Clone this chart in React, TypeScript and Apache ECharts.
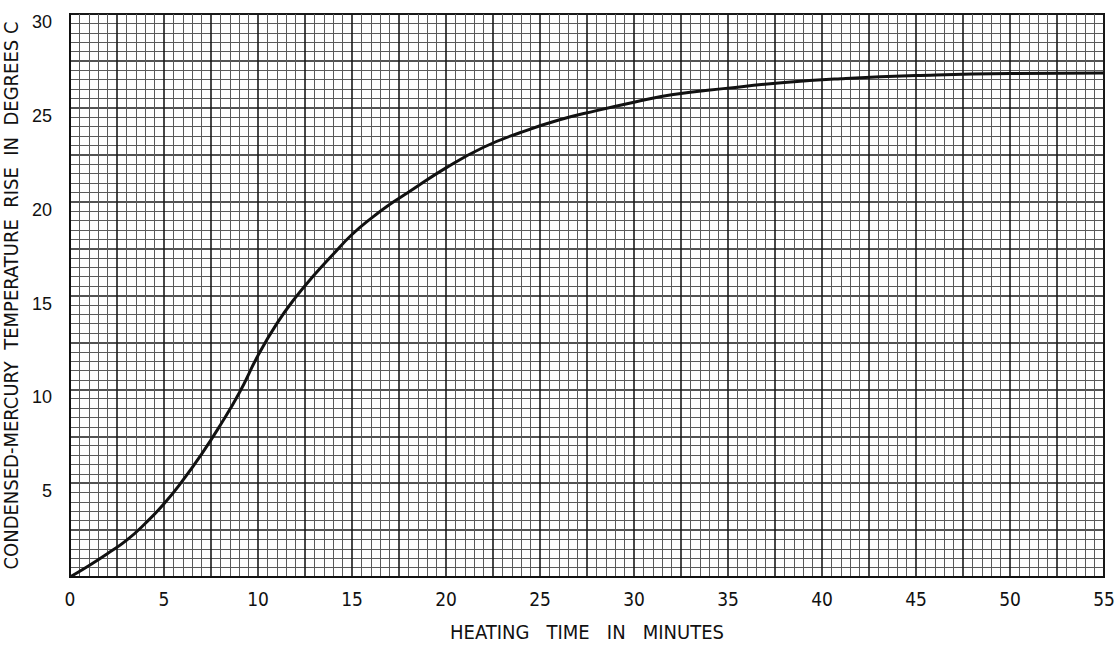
import React, { useEffect, useRef } from "react";
import * as echarts from "echarts";

const timeMinutes = [0, 1, 2, 3, 4, 5, 6, 7, 8, 9, 10, 11, 12, 13, 14, 15, 16, 17, 18, 20, 22, 24, 26, 28, 30, 32, 35, 38, 41, 45, 50, 55];
const tempRise = [0, 0.6, 1.25, 1.95, 2.85, 3.9, 5.15, 6.55, 8.1, 9.8, 11.8, 13.5, 14.9, 16.1, 17.2, 18.25, 19.1, 19.85, 20.5, 21.8, 22.9, 23.7, 24.35, 24.85, 25.3, 25.7, 26.05, 26.35, 26.55, 26.72, 26.83, 26.85];
const xTickLabels = [0, 5, 10, 15, 20, 25, 30, 35, 40, 45, 50, 55];
const yTickLabels = [5, 10, 15, 20, 25, 30];

const xTitle = "HEATING   TIME   IN   MINUTES";
const yTitle = "CONDENSED-MERCURY  TEMPERATURE  RISE  IN  DEGREES C";

export default function App() {
  const ref = useRef<HTMLDivElement>(null);
  useEffect(() => {
    if (!ref.current) return;
    const chart = echarts.init(ref.current, null, { renderer: "svg" });
    const narrow = "'DejaVu Sans Condensed', 'Liberation Sans Narrow', 'DejaVu Sans', sans-serif";
    const minorLine = { show: true, lineStyle: { color: "#5a5a5a", width: 1 } };
    const majorLine = { show: true, lineStyle: { color: "#1a1a1a", width: 1.6 } };
    chart.setOption({
      animation: false,
      backgroundColor: "#ffffff",
      grid: {
        left: 70,
        right: 12,
        top: 14,
        bottom: 71,
        outerBoundsMode: "none",
        show: true,
        borderColor: "#111",
        borderWidth: 2,
        backgroundColor: "transparent",
      },
      xAxis: {
        type: "value",
        min: 0,
        max: 55,
        interval: 2.5,
        name: xTitle,
        nameLocation: "middle",
        nameGap: 45,
        nameTextStyle: { fontFamily: narrow, fontSize: 20, color: "#111" },
        axisLine: { show: true, lineStyle: { color: "#111", width: 2 } },
        axisTick: { show: false },
        minorTick: { show: false, splitNumber: 5 },
        splitLine: majorLine,
        minorSplitLine: minorLine,
        axisLabel: {
          margin: 12,
          fontFamily: narrow,
          fontSize: 19,
          color: "#111",
          formatter: (v: number) => (xTickLabels.includes(v) ? String(v) : ""),
        },
      },
      yAxis: {
        type: "value",
        min: 0,
        max: 30,
        interval: 2.5,
        name: yTitle,
        nameLocation: "middle",
        nameRotate: 90,
        nameGap: 46,
        nameTextStyle: { fontFamily: narrow, fontSize: 20, color: "#111" },
        axisLine: { show: true, lineStyle: { color: "#111", width: 2 } },
        axisTick: { show: false },
        minorTick: { show: false, splitNumber: 5 },
        splitLine: majorLine,
        minorSplitLine: minorLine,
        axisLabel: {
          margin: 18,
          fontFamily: "'Liberation Sans', sans-serif",
          fontSize: 18,
          color: "#111",
          verticalAlign: "top",
          lineHeight: 16,
          formatter: (v: number) => (yTickLabels.includes(v) ? String(v) : ""),
        },
      },
      series: [
        {
          type: "line",
          data: timeMinutes.map((t, i) => [t, tempRise[i]]),
          smooth: 0.5,
          symbol: "none",
          lineStyle: { color: "#111", width: 3 },
        },
      ],
    });
    return () => chart.dispose();
  }, []);
  return <div ref={ref} style={{ position: "fixed", left: 0, top: 0, width: 1116, height: 648 }} />;
}
